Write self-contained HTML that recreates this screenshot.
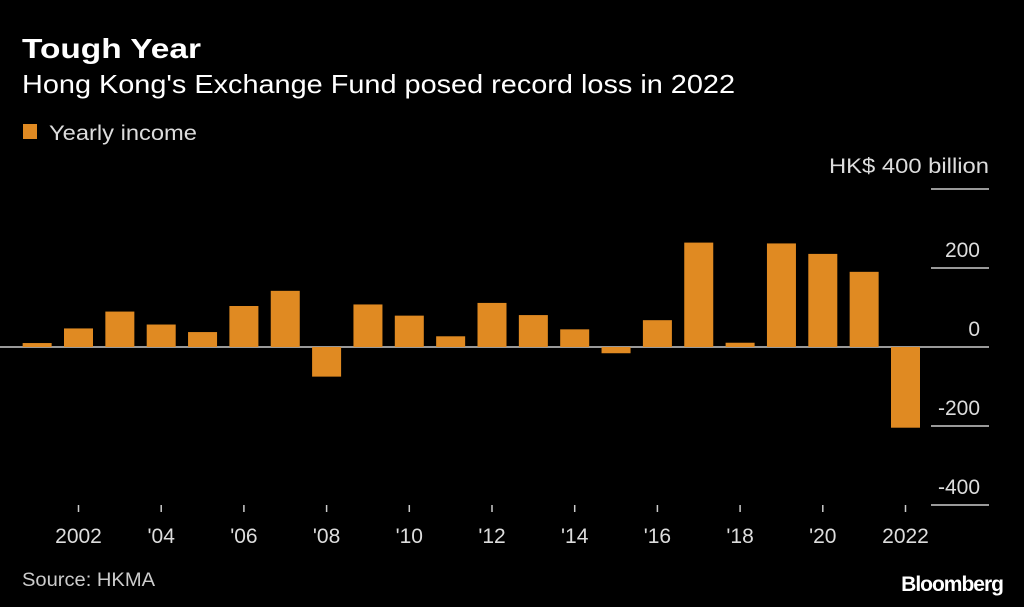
<!DOCTYPE html>
<html><head><meta charset="utf-8"><style>
body{margin:0;background:#000;width:1024px;height:607px;overflow:hidden;font-family:"Liberation Sans",sans-serif;color:#fff}
svg{position:absolute;left:0;top:0}
</style></head><body>
<svg width="1024" height="607">
<text x="22" y="58" font-size="28" font-weight="bold" fill="#fff" textLength="179" lengthAdjust="spacingAndGlyphs">Tough Year</text>
<text x="22" y="93" font-size="26" fill="#fff" textLength="713" lengthAdjust="spacingAndGlyphs">Hong Kong's Exchange Fund posed record loss in 2022</text>
<rect x="23" y="124" width="14" height="15" fill="#e08a22"/>
<text x="49" y="140" font-size="21" fill="#ddd" textLength="148" lengthAdjust="spacingAndGlyphs">Yearly income</text>
<text x="989" y="173" font-size="21" fill="#ddd" text-anchor="end" textLength="160" lengthAdjust="spacingAndGlyphs">HK$ 400  billion</text>
<g id="grid"></g><g id="bars"></g><g id="xaxis"></g>
<text x="22" y="586" font-size="19" fill="#ccc" textLength="133" lengthAdjust="spacingAndGlyphs">Source: HKMA</text>
<text x="1003" y="591" font-size="21" font-weight="bold" fill="#fff" text-anchor="end" letter-spacing="-1">Bloomberg</text>
</svg>
<script>
const years=[2001,2002,2003,2004,2005,2006,2007,2008,2009,2010,2011,2012,2013,2014,2015,2016,2017,2018,2019,2020,2021,2022];
const income=[10,47,89.7,56.9,37.8,103.8,142.2,-75,107.7,79.4,27.1,111.6,80.8,44.7,-15.8,67.9,264.3,10.8,262.2,235.7,190.3,-204.3];
const yTicks=[200,0,-200,-400];
const yTickLabels=["200","0","-200","-400"];
const xTickYears=[2002,2004,2006,2008,2010,2012,2014,2016,2018,2020,2022];
const xTickLabels=["2002","'04","'06","'08","'10","'12","'14","'16","'18","'20","2022"];
const NS="http://www.w3.org/2000/svg";
const y=v=>347-v*(79/200);
const x=yr=>905.5-(2022-yr)*41.35;
function mk(t,a,p){const e=document.createElementNS(NS,t);for(const k in a)e.setAttribute(k,a[k]);p.appendChild(e);return e;}
const grid=document.getElementById('grid'),bars=document.getElementById('bars'),xa=document.getElementById('xaxis');
const gl=mk('line',{x1:931,x2:989,y1:y(400),y2:y(400),stroke:'#ccc','stroke-width':1.5},grid);


yTicks.forEach((v,i)=>{
 const l=mk('line',{x1:v===0?0:931,x2:989,y1:y(v),y2:y(v),stroke:'#ccc','stroke-width':1.5},grid);
 
 
 const t=mk('text',{x:980,y:y(v)-11,'font-size':21,fill:'#ddd','text-anchor':'end'},grid);
 t.textContent=yTickLabels[i];
 
 
});
years.forEach((yr,i)=>{
 const v=income[i];
 const r=mk('rect',{x:x(yr)-14.5,width:29,y:Math.min(y(v),y(0)),height:Math.abs(y(v)-y(0)),fill:'#e08a22'},bars);
 
 
});
xTickYears.forEach((yr,i)=>{
 const l=mk('line',{x1:x(yr),x2:x(yr),y1:505,y2:512,stroke:'#ccc','stroke-width':1.5},xa);
 
 
 const t=mk('text',{x:x(yr),y:543,'font-size':21,fill:'#ddd','text-anchor':'middle'},xa);
 t.textContent=xTickLabels[i];
 
 
});
</script>
</body></html>
